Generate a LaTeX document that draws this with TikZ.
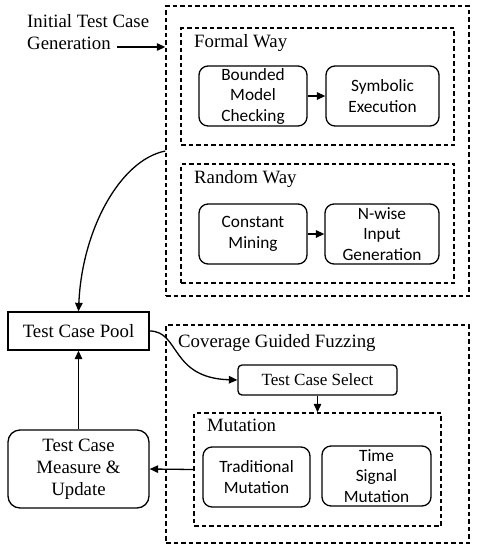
\documentclass[tikz,border=0pt]{standalone}
\usepackage{fontspec}
\setmainfont{Liberation Serif}
\newfontfamily\boxfont{Carlito}
\usetikzlibrary{positioning,arrows.meta}
\newcommand{\serifsz}{\rmfamily\fontsize{18.8}{22}\selectfont}
\newcommand{\sanssz}{\boxfont\fontsize{17.3}{20.5}\selectfont}
\tikzset{
  frame/.style = {rectangle, draw, dash pattern=on 4.5pt off 3pt, line width=1.4pt,
                  minimum width=#1, inner sep=0pt},
  proc/.style  = {rectangle, rounded corners=9pt, draw, line width=1.3pt, align=center,
                  font=\sanssz, inner sep=0pt, minimum height=60pt},
  pool/.style  = {rectangle, draw, line width=1.3pt, align=center, font=\serifsz,
                  inner sep=0pt, minimum width=141pt},
  hdr/.style   = {anchor=west, font=\serifsz, inner sep=0pt},
  flow/.style  = {-{Triangle[length=8.5pt,width=7.5pt]}, line width=1.3pt},
}
\begin{document}
\begin{tikzpicture}[x=1pt, y=-1pt]
  \useasboundingbox (0,0) rectangle (479,550);

  % initial test case generation
  \node[frame=303pt, minimum height=290pt] (gen) at (317.5,151) {};
  \node[frame=273pt, minimum height=117pt] (formal) at (317.5,86.5) {};
  \node[frame=273pt, minimum height=119pt] (random) at (317.5,223.5) {};
  \node[hdr] (formalhdr) at (194,43) {Formal Way};
  \node[hdr] (randomhdr) at (194,179) {Random Way};
  \node[proc, minimum width=108pt] (bmc) at (253,96) {Bounded\\Model\\Checking};
  \node[proc, minimum width=113pt] (sym) at (382.5,96) {Symbolic\\Execution};
  \node[proc, minimum width=108pt] (const) at (253,234) {Constant\\Mining};
  \node[proc, minimum width=114pt] (nwise) at (382,234) {N-wise\\Input\\Generation};
  \draw[flow] (bmc) -- (sym);
  \draw[flow] (const) -- (nwise);

  \node[anchor=north west, align=left, font=\serifsz, inner sep=0pt] (genlbl) at (27,14)
    {Initial Test Case\\Generation};
  \coordinate (genin) at (117,47);
  \draw[flow] (genin) -- (genin -| gen.west);

  % pool and measure
  \node[pool, minimum height=38pt] (tcpool) at (78.5,331) {Test Case Pool};
  \node[pool, rounded corners=12pt, minimum height=78pt] (measure) at (78.5,469)
    {Test Case\\Measure \&\\Update};
  \draw[flow] (gen.west) .. controls (120,160) and (82,230) .. (tcpool.north);
  \draw[flow] (measure) -- (tcpool);

  % coverage guided fuzzing
  \node[frame=303pt, minimum height=218pt] (cgf) at (317.5,434) {};
  \node[hdr] (cgfhdr) at (178,343) {Coverage Guided Fuzzing};
  \node[pool, rounded corners=4pt, minimum width=159pt, minimum height=30pt,
        font=\rmfamily\fontsize{17.1}{20}\selectfont] (select)
    at (317.5,380) {Test Case Select};
  \node[frame=247pt, minimum height=113pt] (mut) at (317.5,469.5) {};
  \node[hdr] (muthdr) at (207,425) {Mutation};
  \node[proc, minimum width=107pt] (trad) at (256.5,477) {Traditional\\Mutation};
  \node[proc, minimum width=109pt] (tsm) at (376.5,476) {Time\\Signal\\Mutation};
  \draw[flow] (tcpool.east) .. controls (180,331) and (170,378) .. (select.west);
  \draw[flow] (select) -- (mut);
  \draw[flow] (mut.west) -- (measure.east);
\end{tikzpicture}
\end{document}
